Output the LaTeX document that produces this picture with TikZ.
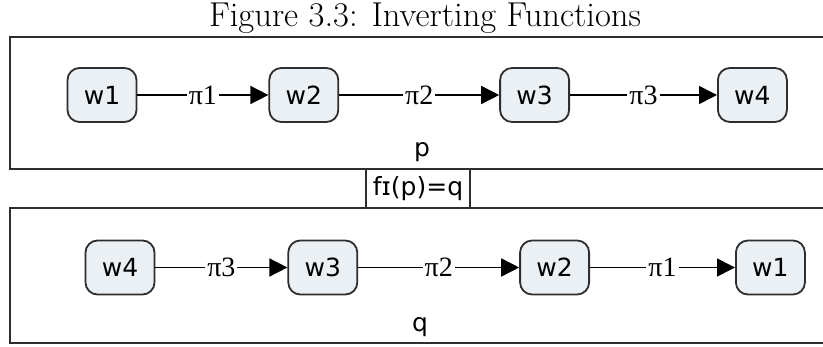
\documentclass[tikz,border=0pt]{standalone}
\usepackage{fontspec}
\newfontfamily\wfont{DejaVu Sans}
\newfontfamily\pifont{Liberation Serif}
\usepackage{tikz}
\usetikzlibrary{positioning,arrows.meta}
\definecolor{wfill}{HTML}{EAF0F4}
\definecolor{wdraw}{HTML}{2E2E2E}

\begin{document}
\begin{tikzpicture}[font=\wfont\fontsize{12.5}{14}\selectfont,
   wnode/.style={draw=wdraw,rounded corners=6pt,fill=wfill,line width=0.9pt,
              minimum width=34.5pt,minimum height=27pt,inner sep=2pt},
   frame/.style={draw=wdraw,line width=1pt},
   plabel/.style={fill=white,inner sep=1pt,font=\pifont\fontsize{14}{16}\selectfont},
   link/.style={-{Triangle[length=9pt,width=9pt]},line width=0.8pt},
]
\useasboundingbox (0,0) rectangle (411.5pt,-173.5pt);
\clip (0,0) rectangle (411.5pt,-173.5pt);

% caption
\node[font=\normalfont\LARGE,anchor=base] (title) at (212.5pt,-13.5pt)
       {Figure 3.3: Inverting Functions};

% frames for p and q
\draw[frame] (4.75pt,-18.5pt) rectangle (430pt,-84.5pt);
\draw[frame] (4.75pt,-104pt) rectangle (430pt,-171.5pt);
\node[frame,minimum width=52pt,minimum height=19.5pt,inner sep=0pt]
       (finv) at (209pt,-94.25pt) {fɪ(p)=q};

% path p
\node[wnode] (a1) at (51pt,-47.5pt) {w1};
\node[wnode,right=65.5pt of a1] (a2) {w2};
\node[wnode,right=80pt of a2]   (a3) {w3};
\node[wnode,right=73.5pt of a3] (a4) {w4};
\node[anchor=base] (plab) at (211pt,-78.5pt) {p};

% path q
\node[wnode] (b4) at (60pt,-133.75pt) {w4};
\node[wnode,right=66pt of b4]   (b3) {w3};
\node[wnode,right=80.5pt of b3] (b2) {w2};
\node[wnode,right=72.5pt of b2] (b1) {w1};
\node[anchor=base] (qlab) at (210pt,-165.5pt) {q};

% steps
\draw[link] (a1) -- node[plabel] {π1} (a2);
\draw[link] (a2) -- node[plabel] {π2} (a3);
\draw[link] (a3) -- node[plabel] {π3} (a4);
\draw[link] (b4) -- node[plabel] {π3} (b3);
\draw[link] (b3) -- node[plabel] {π2} (b2);
\draw[link] (b2) -- node[plabel] {π1} (b1);
\end{tikzpicture}
\end{document}
